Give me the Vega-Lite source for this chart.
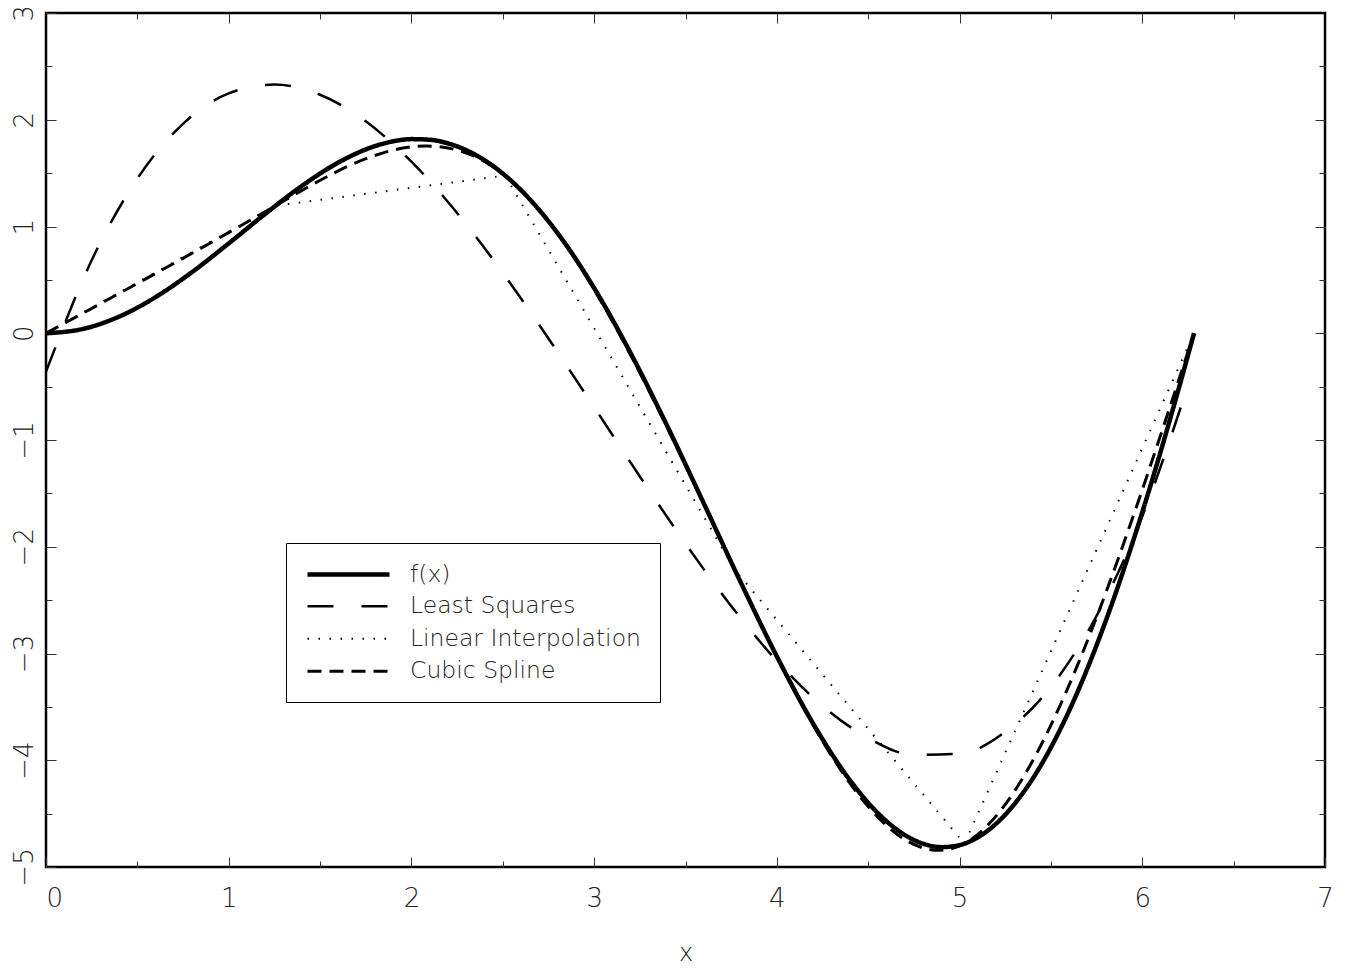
{
  "$schema": "https://vega.github.io/schema/vega-lite/v6.json",
  "width": 1279,
  "height": 854,
  "autosize": {"type": "none"},
  "padding": {"left": 46, "top": 13, "right": 23, "bottom": 103},
  "background": "white",
  "config": {
    "view": {"stroke": "black", "strokeWidth": 2.5},
    "axis": {"grid": false, "domain": false, "tickColor": "#333", "tickWidth": 1, "labelFont": "DejaVu Sans", "labelFontWeight": 200, "labelColor": "#222", "labelOverlap": false}
  },
  "datasets": {
    "fx": [
      {"x": 0, "y": 0, "series": "f(x)"},
      {"x": 0.2, "y": 0.0397, "series": "f(x)"},
      {"x": 0.4, "y": 0.1558, "series": "f(x)"},
      {"x": 0.6, "y": 0.3388, "series": "f(x)"},
      {"x": 0.8, "y": 0.5739, "series": "f(x)"},
      {"x": 1.0, "y": 0.8415, "series": "f(x)"},
      {"x": 1.2, "y": 1.1184, "series": "f(x)"},
      {"x": 1.4, "y": 1.3796, "series": "f(x)"},
      {"x": 1.6, "y": 1.5993, "series": "f(x)"},
      {"x": 1.8, "y": 1.7529, "series": "f(x)"},
      {"x": 1.9, "y": 1.798, "series": "f(x)"},
      {"x": 2.0, "y": 1.8186, "series": "f(x)"},
      {"x": 2.1, "y": 1.8127, "series": "f(x)"},
      {"x": 2.2, "y": 1.7787, "series": "f(x)"},
      {"x": 2.4, "y": 1.6211, "series": "f(x)"},
      {"x": 2.6, "y": 1.3403, "series": "f(x)"},
      {"x": 2.8, "y": 0.938, "series": "f(x)"},
      {"x": 3.0, "y": 0.4234, "series": "f(x)"},
      {"x": 3.2, "y": -0.1868, "series": "f(x)"},
      {"x": 3.4, "y": -0.8688, "series": "f(x)"},
      {"x": 3.6, "y": -1.5931, "series": "f(x)"},
      {"x": 3.8, "y": -2.3251, "series": "f(x)"},
      {"x": 4.0, "y": -3.0272, "series": "f(x)"},
      {"x": 4.2, "y": -3.6606, "series": "f(x)"},
      {"x": 4.4, "y": -4.187, "series": "f(x)"},
      {"x": 4.6, "y": -4.571, "series": "f(x)"},
      {"x": 4.7, "y": -4.6996, "series": "f(x)"},
      {"x": 4.8, "y": -4.7816, "series": "f(x)"},
      {"x": 4.9, "y": -4.814, "series": "f(x)"},
      {"x": 5.0, "y": -4.7946, "series": "f(x)"},
      {"x": 5.1, "y": -4.7217, "series": "f(x)"},
      {"x": 5.2, "y": -4.594, "series": "f(x)"},
      {"x": 5.4, "y": -4.1729, "series": "f(x)"},
      {"x": 5.6, "y": -3.5351, "series": "f(x)"},
      {"x": 5.8, "y": -2.6947, "series": "f(x)"},
      {"x": 6.0, "y": -1.6765, "series": "f(x)"},
      {"x": 6.2, "y": -0.5152, "series": "f(x)"},
      {"x": 6.2832, "y": 0, "series": "f(x)"}
    ],
    "ls": [
      {"x": 0, "y": -0.3594, "series": "Least Squares"},
      {"x": 0.25, "y": 0.6832, "series": "Least Squares"},
      {"x": 0.5, "y": 1.4486, "series": "Least Squares"},
      {"x": 0.75, "y": 1.9616, "series": "Least Squares"},
      {"x": 1.0, "y": 2.247, "series": "Least Squares"},
      {"x": 1.25, "y": 2.3296, "series": "Least Squares"},
      {"x": 1.5, "y": 2.2341, "series": "Least Squares"},
      {"x": 1.75, "y": 1.9852, "series": "Least Squares"},
      {"x": 2.0, "y": 1.6077, "series": "Least Squares"},
      {"x": 2.25, "y": 1.1264, "series": "Least Squares"},
      {"x": 2.5, "y": 0.5661, "series": "Least Squares"},
      {"x": 2.75, "y": -0.0488, "series": "Least Squares"},
      {"x": 3.0, "y": -0.6927, "series": "Least Squares"},
      {"x": 3.25, "y": -1.3417, "series": "Least Squares"},
      {"x": 3.5, "y": -1.9707, "series": "Least Squares"},
      {"x": 3.75, "y": -2.5549, "series": "Least Squares"},
      {"x": 4.0, "y": -3.0696, "series": "Least Squares"},
      {"x": 4.25, "y": -3.4901, "series": "Least Squares"},
      {"x": 4.5, "y": -3.7916, "series": "Least Squares"},
      {"x": 4.75, "y": -3.9492, "series": "Least Squares"},
      {"x": 5.0, "y": -3.9384, "series": "Least Squares"},
      {"x": 5.25, "y": -3.7342, "series": "Least Squares"},
      {"x": 5.5, "y": -3.312, "series": "Least Squares"},
      {"x": 5.75, "y": -2.6469, "series": "Least Squares"},
      {"x": 6.0, "y": -1.7143, "series": "Least Squares"},
      {"x": 6.25, "y": -0.4893, "series": "Least Squares"}
    ],
    "lin": [
      {"x": 0, "y": 0, "series": "Linear Interpolation"},
      {"x": 1.2566, "y": 1.1951, "series": "Linear Interpolation"},
      {"x": 2.5133, "y": 1.4773, "series": "Linear Interpolation"},
      {"x": 3.7699, "y": -2.2159, "series": "Linear Interpolation"},
      {"x": 5.0265, "y": -4.7805, "series": "Linear Interpolation"},
      {"x": 6.2832, "y": 0, "series": "Linear Interpolation"}
    ],
    "spl": [
      {"x": 0, "y": 0, "series": "Cubic Spline"},
      {"x": 1.2566, "y": 1.1951, "series": "Cubic Spline"},
      {"x": 2.5133, "y": 1.4773, "series": "Cubic Spline"},
      {"x": 3.7699, "y": -2.2159, "series": "Cubic Spline"},
      {"x": 5.0265, "y": -4.7805, "series": "Cubic Spline"},
      {"x": 6.2832, "y": 0, "series": "Cubic Spline"}
    ]
  },
  "encoding": {
    "strokeDash": {"field": "series", "type": "nominal",
      "scale": {"domain": ["f(x)", "Least Squares", "Linear Interpolation", "Cubic Spline"], "range": [[1, 0], [26, 28], [1.5, 9.5], [14, 8]]},
      "legend": {"orient": "none", "legendX": 240, "legendY": 530, "title": null, "symbolType": "M-1,0H7.2", "symbolSize": 400, "symbolStrokeColor": "black", "labelOffset": 80, "labelFont": "DejaVu Sans", "labelFontSize": 23.5, "labelFontWeight": 200, "labelColor": "#222", "labelLimit": 500, "padding": 19, "rowPadding": 7.5, "strokeColor": "black", "fillColor": "white"}},
    "strokeWidth": {"field": "series", "type": "nominal",
      "scale": {"type": "ordinal", "domain": ["f(x)", "Least Squares", "Linear Interpolation", "Cubic Spline"], "range": [4.5, 2.5, 2, 3]},
      "legend": {"orient": "none", "legendX": 240, "legendY": 530, "title": null, "symbolType": "M-1,0H7.2", "symbolSize": 400, "symbolStrokeColor": "black", "labelOffset": 80, "labelFont": "DejaVu Sans", "labelFontSize": 23.5, "labelFontWeight": 200, "labelColor": "#222", "labelLimit": 500, "padding": 19, "rowPadding": 7.5, "strokeColor": "black", "fillColor": "white"}}
  },
  "layer": [
    {
      "data": {"name": "ls"},
      "mark": {"type": "line", "color": "black", "interpolate": "monotone"},
      "encoding": {
        "x": {"field": "x", "type": "quantitative", "scale": {"domain": [0, 7], "nice": false, "zero": false},
          "axis": {"orient": "bottom", "values": [0, 1, 2, 3, 4, 5, 6, 7], "tickSize": -10, "labelFontSize": 26, "labelPadding": 28, "labelFlush": false,
            "labelAlign": {"condition": {"test": "datum.value == 0", "value": "left"}, "value": "center"},
            "labelBaseline": "top", "title": "x", "titleFont": "DejaVu Sans", "titleFontSize": 24, "titleFontWeight": 200, "titleColor": "#222", "titlePadding": 30}},
        "y": {"field": "y", "type": "quantitative", "scale": {"domain": [-5, 3], "nice": false, "zero": false},
          "axis": {"orient": "left", "values": [-5, -4, -3, -2, -1, 0, 1, 2, 3], "tickSize": -10, "labelFontSize": 26, "labelPadding": 24, "labelFlush": false,
            "labelAngle": -90, "labelAlign": "center", "labelBaseline": "alphabetic", "title": null}}
      }
    },
    {
      "data": {"name": "lin"},
      "mark": {"type": "line", "color": "black", "interpolate": "linear"},
      "encoding": {
        "x": {"field": "x", "type": "quantitative", "scale": {"domain": [0, 7], "nice": false, "zero": false},
          "axis": {"orient": "bottom", "values": [0.5, 1.5, 2.5, 3.5, 4.5, 5.5, 6.5], "tickSize": -6, "labels": false, "title": null}},
        "y": {"field": "y", "type": "quantitative", "scale": {"domain": [-5, 3], "nice": false, "zero": false},
          "axis": {"orient": "left", "values": [-4.5, -3.5, -2.5, -1.5, -0.5, 0.5, 1.5, 2.5], "tickSize": -6, "labels": false, "title": null}}
      }
    },
    {
      "data": {"name": "spl"},
      "mark": {"type": "line", "color": "black", "interpolate": "natural"},
      "encoding": {
        "x": {"field": "x", "type": "quantitative", "scale": {"domain": [0, 7], "nice": false, "zero": false},
          "axis": {"orient": "top", "values": [1, 2, 3, 4, 5, 6], "tickSize": -10, "labels": false, "title": null}},
        "y": {"field": "y", "type": "quantitative", "scale": {"domain": [-5, 3], "nice": false, "zero": false},
          "axis": {"orient": "right", "values": [-4, -3, -2, -1, 0, 1, 2], "tickSize": -10, "labels": false, "title": null}}
      }
    },
    {
      "data": {"name": "fx"},
      "mark": {"type": "line", "color": "black", "interpolate": "monotone"},
      "encoding": {
        "x": {"field": "x", "type": "quantitative", "scale": {"domain": [0, 7], "nice": false, "zero": false},
          "axis": {"orient": "top", "values": [0.5, 1.5, 2.5, 3.5, 4.5, 5.5, 6.5], "tickSize": -6, "labels": false, "title": null}},
        "y": {"field": "y", "type": "quantitative", "scale": {"domain": [-5, 3], "nice": false, "zero": false},
          "axis": {"orient": "right", "values": [-4.5, -3.5, -2.5, -1.5, -0.5, 0.5, 1.5, 2.5], "tickSize": -6, "labels": false, "title": null}}
      }
    }
  ],
  "resolve": {"axis": {"x": "independent", "y": "independent"}}
}
